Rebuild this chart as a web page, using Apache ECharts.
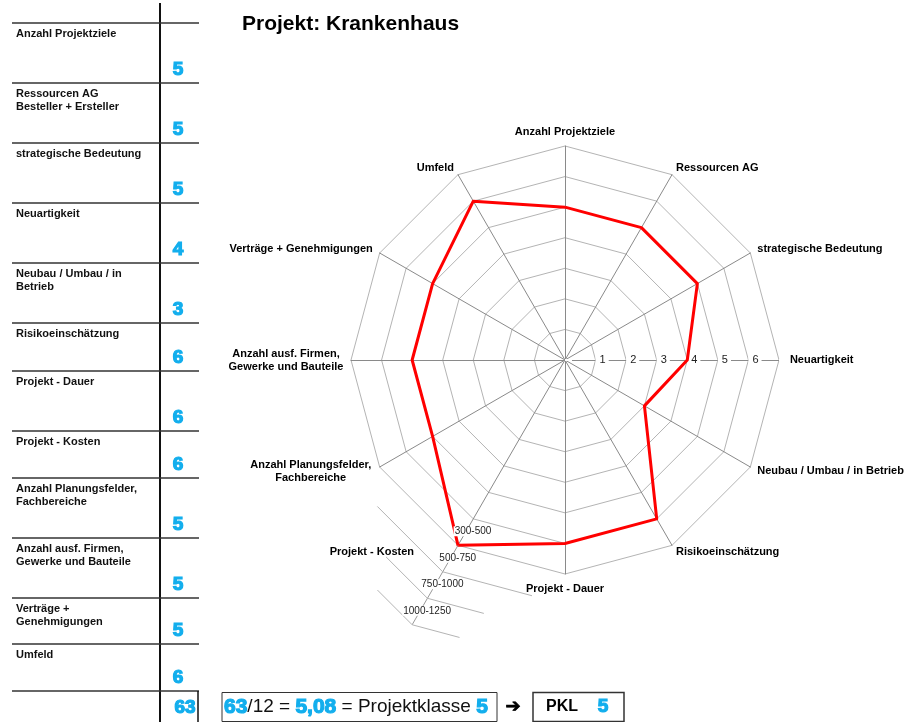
<!DOCTYPE html>
<html>
<head>
<meta charset="utf-8">
<title>Projekt: Krankenhaus</title>
<script src="https://cdn.jsdelivr.net/npm/echarts@6/dist/echarts.min.js"></script>
<style>
  html, body { margin: 0; padding: 0; background: #fff; }
  #main { width: 907px; height: 722px; }
</style>
</head>
<body>
<div id="main"></div>
<script>
// Kriterien, im Uhrzeigersinn ab oben (Reihenfolge der Tabelle)
var rowLabels = [
  'Anzahl Projektziele',
  'Ressourcen AG\nBesteller + Ersteller',
  'strategische Bedeutung',
  'Neuartigkeit',
  'Neubau / Umbau / in\nBetrieb',
  'Risikoeinschätzung',
  'Projekt - Dauer',
  'Projekt - Kosten',
  'Anzahl Planungsfelder,\nFachbereiche',
  'Anzahl ausf. Firmen,\nGewerke und Bauteile',
  'Verträge +\nGenehmigungen',
  'Umfeld'
];
var radarNames = [
  'Anzahl Projektziele',
  'Ressourcen AG',
  'strategische Bedeutung',
  'Neuartigkeit',
  'Neubau / Umbau / in Betrieb',
  'Risikoeinschätzung',
  'Projekt - Dauer',
  'Projekt - Kosten',
  'Anzahl Planungsfelder,\nFachbereiche',
  'Anzahl ausf. Firmen,\nGewerke und Bauteile',
  'Verträge + Genehmigungen',
  'Umfeld'
];
var tableScores = [5, 5, 5, 4, 3, 6, 6, 6, 5, 5, 5, 6];
var chartValues = [5, 5, 5, 4, 3, 6, 6, 7, 5, 5, 5, 6];
var totalScore = '63';
var averageText = '5,08';
var projectClass = '5';
var axisTicks = [1, 2, 3, 4, 5, 6];
var costBands = ['300-500', '500-750', '750-1000', '1000-1250'];
var costBandValues = [7, 8, 9, 10];

var BLUE = '#12aeed';
var FONT = '"Liberation Sans", Arial, sans-serif';
var tickAxis = 3;   // Neuartigkeit traegt die Skala
var costAxis = 7;   // Projekt - Kosten

// echarts laeuft gegen den Uhrzeigersinn -> Reihenfolge umdrehen
var ecOrder = [0];
for (var i = rowLabels.length - 1; i > 0; i--) ecOrder.push(i);

var nameBase = { fontFamily: FONT, fontSize: 11, fontWeight: 'bold', color: '#000', lineHeight: 13 };
var nameRich = {
  k: Object.assign({ padding: [0, 40, 0, 0] }, nameBase),
  c8: Object.assign({ width: 124, align: 'center' }, nameBase),
  c9: Object.assign({ width: 114, align: 'center' }, nameBase)
};

var chart = echarts.init(document.getElementById('main'));

chart.setOption({
  animation: false,
  backgroundColor: '#fff',
  title: {
    text: 'Projekt: Krankenhaus',
    left: 237,
    top: 9,
    textStyle: { fontFamily: FONT, fontSize: 21, fontWeight: 'bold', color: '#000' }
  },
  radar: {
    center: [565, 360],
    radius: 214,
    startAngle: 90,
    shape: 'polygon',
    splitNumber: 7,
    nameGap: 8,
    axisName: Object.assign({
      rich: nameRich,
      formatter: function (name) {
        var idx = radarNames.indexOf(name);
        if (idx === costAxis) return '{k|' + name + '}';
        if (idx === 8 || idx === 9) {
          return name.split('\n').map(function (s) { return '{c' + idx + '|' + s + '}'; }).join('\n');
        }
        return name;
      }
    }, nameBase),
    splitLine: { lineStyle: { color: '#b4b4b4', width: 1 } },
    splitArea: { show: false },
    axisLine: { lineStyle: { color: '#8a8a8a', width: 1 } },
    axisTick: { show: false },
    axisLabel: { show: false },
    indicator: ecOrder.map(function (i) {
      var ind = { name: radarNames[i], min: 0, max: 7 };
      if (i === tickAxis) {
        ind.axisLabel = {
          show: true,
          margin: 0,
          align: 'left',
          verticalAlign: 'middle',
          color: '#222',
          fontFamily: FONT,
          fontSize: 11,
          backgroundColor: '#fff',
          padding: [1, 3, 1, 4],
          formatter: function (v) { return axisTicks.indexOf(v) >= 0 ? String(v) : ''; }
        };
      }
      return ind;
    })
  },
  series: [{
    type: 'radar',
    silent: true,
    symbol: 'none',
    lineStyle: { color: '#ff0000', width: 3 },
    data: [{ value: ecOrder.map(function (i) { return chartValues[i]; }) }]
  }]
});

// --- Zusatzelemente: Tabelle, Kostenbaender, Formel ---
var g = [];
var rowEdges = [23, 83, 143, 203, 263, 323, 371, 431, 478, 538, 598, 644, 691];

g.push({ type: 'line', z: 100, shape: { x1: 160, y1: 3, x2: 160, y2: 722 }, style: { stroke: '#111', lineWidth: 2 } });
rowEdges.forEach(function (y) {
  g.push({ type: 'line', z: 100, shape: { x1: 12, y1: y, x2: 199, y2: y }, style: { stroke: '#333', lineWidth: 1.5 } });
});
g.push({ type: 'line', z: 100, shape: { x1: 198, y1: 691, x2: 198, y2: 722 }, style: { stroke: '#111', lineWidth: 1.5 } });

rowLabels.forEach(function (lab, i) {
  var top = rowEdges[i], bottom = rowEdges[i + 1];
  g.push({ type: 'text', z: 100, x: 16, y: top + 4.5,
    style: { text: lab, fontFamily: FONT, fontSize: 11, fontWeight: 'bold', lineHeight: 13, fill: '#111', verticalAlign: 'top' } });
  g.push({ type: 'text', z: 100, x: 178, y: bottom - 13,
    style: { text: String(tableScores[i]), fontFamily: FONT, fontSize: 19, fontWeight: 'bold', fill: BLUE,
      stroke: BLUE, lineWidth: 1.2, align: 'center', verticalAlign: 'middle' } });
});
g.push({ type: 'text', z: 100, x: 185, y: 708,
  style: { text: totalScore, fontFamily: FONT, fontSize: 19, fontWeight: 'bold', fill: BLUE,
    stroke: BLUE, lineWidth: 1.2, align: 'center', verticalAlign: 'middle' } });

// Kostenbaender an der Achse "Projekt - Kosten"
var radarCS = chart.getModel().getComponent('radar', 0).coordinateSystem;
var kIdx = ecOrder.indexOf(costAxis);
var armFrac = [1, 0.73, 0.41, 0.31];
var pTop = radarCS.dataToPoint(costBandValues[0], kIdx);
var pEnd = radarCS.dataToPoint(costBandValues[costBandValues.length - 1], kIdx);
g.push({ type: 'line', z: 90, shape: { x1: pTop[0], y1: pTop[1], x2: pEnd[0], y2: pEnd[1] }, style: { stroke: '#999', lineWidth: 1 } });
costBandValues.forEach(function (v, j) {
  var p = radarCS.dataToPoint(v, kIdx);
  if (j > 0) {
    var a = radarCS.dataToPoint(v, kIdx - 1);
    var b = radarCS.dataToPoint(v, kIdx + 1);
    var f = armFrac[j];
    g.push({ type: 'polyline', z: 90, shape: { points: [
      [p[0] + (a[0] - p[0]) * f, p[1] + (a[1] - p[1]) * f], p,
      [p[0] + (b[0] - p[0]) * f, p[1] + (b[1] - p[1]) * f]] },
      style: { stroke: '#b4b4b4', lineWidth: 1, fill: null } });
  }
  g.push({ type: 'text', z: 110, x: p[0] + 15, y: p[1] - 14,
    style: { text: costBands[j], fontFamily: FONT, fontSize: 10, fill: '#222', align: 'center', verticalAlign: 'middle',
      backgroundColor: '#fff', padding: [0, 1] } });
});

// Formel unten
g.push({ type: 'rect', z: 100, shape: { x: 222, y: 692.5, width: 275, height: 29 }, style: { stroke: '#333', lineWidth: 1, fill: '#fff' } });
g.push({ type: 'text', z: 101, x: 224, y: 707,
  style: {
    text: '{b|' + totalScore + '}{n|/12 = }{b|' + averageText + '}{n| = Projektklasse }{b|' + projectClass + '}',
    verticalAlign: 'middle',
    rich: {
      b: { fontFamily: FONT, fontSize: 21, fontWeight: 'bold', fill: BLUE, stroke: BLUE, lineWidth: 1.2 },
      n: { fontFamily: FONT, fontSize: 19, fill: '#111' }
    }
  } });
g.push({ type: 'text', z: 100, x: 513, y: 707,
  style: { text: '➔', fontFamily: '"DejaVu Sans", sans-serif', fontSize: 18, fontWeight: 'bold', fill: '#000',
    stroke: '#000', lineWidth: 0.8, align: 'center', verticalAlign: 'middle' } });
g.push({ type: 'rect', z: 100, shape: { x: 533, y: 692.5, width: 91, height: 29 }, style: { stroke: '#333', lineWidth: 1.5, fill: '#fff' } });
g.push({ type: 'text', z: 101, x: 562, y: 707,
  style: { text: 'PKL', fontFamily: FONT, fontSize: 16, fontWeight: 'bold', fill: '#000', align: 'center', verticalAlign: 'middle' } });
g.push({ type: 'text', z: 101, x: 603, y: 707,
  style: { text: projectClass, fontFamily: FONT, fontSize: 19, fontWeight: 'bold', fill: BLUE, stroke: BLUE, lineWidth: 1.2, align: 'center', verticalAlign: 'middle' } });

chart.setOption({ graphic: { elements: g } });
</script>
</body>
</html>
